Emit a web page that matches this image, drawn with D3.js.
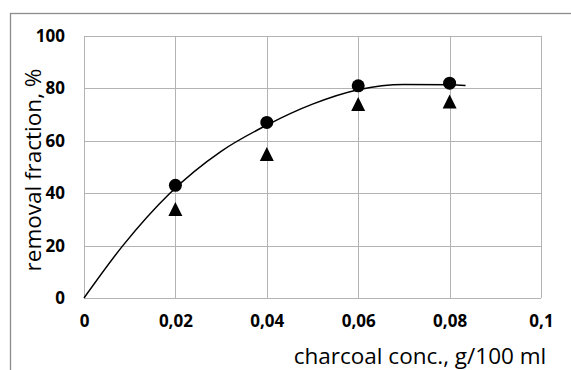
<!DOCTYPE html>
<html>
<head>
<meta charset="utf-8">
<script src="https://cdn.jsdelivr.net/npm/d3@7"></script>
<style>
  body { margin: 0; background: #fff; }
  svg { display: block; }
  .tick text { font-family: "Open Sans", sans-serif; font-weight: 700; font-size: 17px; fill: #000; }
  .axisTitle { font-family: "Open Sans", sans-serif; font-size: 22.5px; fill: #000; }
</style>
</head>
<body>
<div class="chart"></div>
<script>
var svgWidth = 571;
var svgHeight = 370;

// measured data
var concentrations = [0.02, 0.04, 0.06, 0.08];
var circleValues = [43, 67, 81, 82];
var triangleValues = [34, 55, 74, 75];

// trendline
var trendX = [0, 0.0085, 0.0188, 0.03, 0.04, 0.05, 0.06, 0.07, 0.08, 0.0835];
var trendY = [0, 20, 40, 56, 66, 74, 79.5, 81.5, 81.4, 81.1];

var xTicks = [0, 0.02, 0.04, 0.06, 0.08, 0.1];
var xTickLabels = ["0", "0,02", "0,04", "0,06", "0,08", "0,1"];
var yTicks = [0, 20, 40, 60, 80, 100];

var margin = { top: 36, right: 30, bottom: 72, left: 84 };
var width = 541 - margin.left;
var height = 298 - margin.top;

var svg = d3.select(".chart")
  .append("svg")
  .attr("width", svgWidth)
  .attr("height", svgHeight);

// outer chart frame (cut by the window on right and bottom)
svg.append("rect")
  .attr("x", 10.5)
  .attr("y", 13.5)
  .attr("width", 600)
  .attr("height", 400)
  .attr("fill", "none")
  .attr("stroke", "#8c8c8c")
  .attr("stroke-width", 1.3);

var chartGroup = svg.append("g")
  .attr("transform", `translate(${margin.left}, ${margin.top})`);

var xScale = d3.scaleLinear().domain([0, 0.1]).range([0, width]);
var yScale = d3.scaleLinear().domain([0, 100]).range([height, 0]);

// gridlines
chartGroup.append("g")
  .selectAll("line")
  .data(yTicks)
  .enter()
  .append("line")
  .attr("x1", 0)
  .attr("x2", width)
  .attr("y1", d => Math.round(yScale(d)) + 0.5)
  .attr("y2", d => Math.round(yScale(d)) + 0.5)
  .attr("stroke", "#b3b3b3")
  .attr("stroke-width", 1);

chartGroup.append("g")
  .selectAll("line")
  .data(xTicks)
  .enter()
  .append("line")
  .attr("x1", d => Math.round(xScale(d)) + 0.5)
  .attr("x2", d => Math.round(xScale(d)) + 0.5)
  .attr("y1", 0)
  .attr("y2", height)
  .attr("stroke", "#b3b3b3")
  .attr("stroke-width", 1);

var bottomAxis = d3.axisBottom(xScale)
  .tickValues(xTicks)
  .tickFormat((d, i) => xTickLabels[i])
  .tickSize(0)
  .tickPadding(17);

var leftAxis = d3.axisLeft(yScale)
  .tickValues(yTicks)
  .tickSize(0)
  .tickPadding(19);

chartGroup.append("g")
  .attr("transform", `translate(0, ${height})`)
  .call(bottomAxis)
  .call(g => g.select(".domain").remove());

chartGroup.append("g")
  .call(leftAxis)
  .call(g => g.select(".domain").remove());

// trendline
var trendData = trendX.map((x, i) => ({ x: x, y: trendY[i] }));
chartGroup.append("path")
  .datum(trendData)
  .attr("fill", "none")
  .attr("stroke", "#000")
  .attr("stroke-width", 1.5)
  .attr("d", d3.line()
    .x(d => xScale(d.x))
    .y(d => yScale(d.y))
    .curve(d3.curveMonotoneX));

// triangle markers
chartGroup.selectAll(".tri")
  .data(concentrations)
  .enter()
  .append("path")
  .attr("class", "tri")
  .attr("transform", (d, i) => `translate(${xScale(d)}, ${yScale(triangleValues[i])})`)
  .attr("d", "M0,-7 L7,7 L-7,7 Z")
  .attr("fill", "#000");

// circle markers
chartGroup.selectAll("circle")
  .data(concentrations)
  .enter()
  .append("circle")
  .attr("cx", d => xScale(d))
  .attr("cy", (d, i) => yScale(circleValues[i]))
  .attr("r", 6.5)
  .attr("fill", "#000");

// axis titles
svg.append("text")
  .attr("class", "axisTitle")
  .attr("transform", "translate(41, 170) rotate(-90)")
  .attr("text-anchor", "middle")
  .text("removal fraction, %");

svg.append("text")
  .attr("class", "axisTitle")
  .attr("x", 420)
  .attr("y", 364)
  .attr("text-anchor", "middle")
  .text("charcoal conc., g/100 ml");
</script>
</body>
</html>
